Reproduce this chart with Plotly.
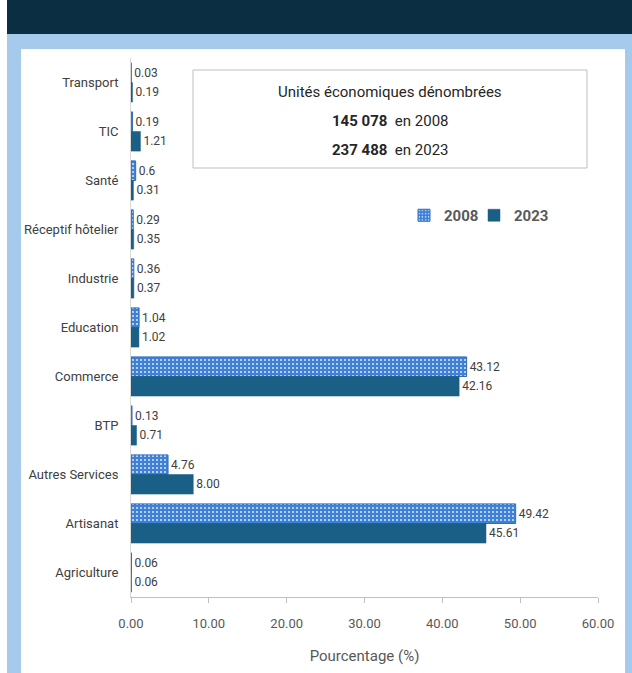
import plotly.graph_objects as go

categories = ["Transport", "TIC", "Santé", "Réceptif hôtelier", "Industrie", "Education",
              "Commerce", "BTP", "Autres Services", "Artisanat", "Agriculture"]
values_2008 = [0.03, 0.19, 0.6, 0.29, 0.36, 1.04, 43.12, 0.13, 4.76, 49.42, 0.06]
values_2023 = [0.19, 1.21, 0.31, 0.35, 0.37, 1.02, 42.16, 0.71, 8.00, 45.61, 0.06]
labels_2008 = ["0.03", "0.19", "0.6", "0.29", "0.36", "1.04", "43.12", "0.13", "4.76", "49.42", "0.06"]
labels_2023 = ["0.19", "1.21", "0.31", "0.35", "0.37", "1.02", "42.16", "0.71", "8.00", "45.61", "0.06"]
x_ticks = [0, 10, 20, 30, 40, 50, 60]
x_tick_labels = ["0.00", "10.00", "20.00", "30.00", "40.00", "50.00", "60.00"]

FONT = "Roboto, Liberation Sans, sans-serif"
W, H = 632, 673
L, R, T, B = 131, 34, 58, 76
PW, PH = W - L - R, H - T - B

def px_x(px):
    return (px - L) / PW

def px_y(py):
    return (H - B - py) / PH

fig = go.Figure()
fig.add_trace(go.Bar(
    y=categories, x=values_2008, name="2008", orientation="h", legend="legend", showlegend=True,
    text=labels_2008, textposition="outside", cliponaxis=False,
    textfont=dict(family=FONT, size=12, color="#404040"),
    marker=dict(color="#3d80d6", line=dict(color="#2f6fbf", width=1),
                pattern=dict(shape=".", fillmode="replace", bgcolor="#3d80d6",
                             fgcolor="#dfeafa", size=4, solidity=0.2)),
))
fig.add_trace(go.Bar(
    y=categories, x=values_2023, name="2023", orientation="h", legend="legend2", showlegend=True,
    text=labels_2023, textposition="outside", cliponaxis=False,
    textfont=dict(family=FONT, size=12, color="#404040"),
    marker=dict(color="#1a5f85", line=dict(color="#1a5f85", width=0.5)),
))

shapes = [
    dict(type="rect", xref="paper", yref="paper", layer="below",
         x0=px_x(21), x1=px_x(625), y0=px_y(H + 20), y1=px_y(49),
         fillcolor="white", line=dict(width=0)),
    dict(type="rect", xref="paper", yref="paper", layer="below",
         x0=px_x(7), x1=px_x(W + 20), y0=px_y(34), y1=px_y(-20),
         fillcolor="#0b2e42", line=dict(width=0)),
    dict(type="rect", xref="paper", yref="paper", layer="below",
         x0=px_x(-20), x1=px_x(7), y0=px_y(H + 20), y1=px_y(-20),
         fillcolor="white", line=dict(width=0)),
    dict(type="rect", xref="paper", yref="paper", layer="above",
         x0=px_x(193), x1=px_x(587), y0=px_y(168), y1=px_y(70),
         fillcolor="rgba(0,0,0,0)", line=dict(color="#bfbfbf", width=1)),
]

cx = px_x(390)
box_font = dict(family=FONT, size=15, color="#262626")
annotations = [
    dict(xref="paper", yref="paper", x=cx, y=px_y(92), xanchor="center", yanchor="middle",
         text="Unités économiques dénombrées", showarrow=False, font=box_font),
    dict(xref="paper", yref="paper", x=cx, y=px_y(121), xanchor="center", yanchor="middle",
         text="<b>145 078</b>  en 2008", showarrow=False, font=box_font),
    dict(xref="paper", yref="paper", x=cx, y=px_y(150), xanchor="center", yanchor="middle",
         text="<b>237 488</b>  en 2023", showarrow=False, font=box_font),
]

legend_font = dict(family=FONT, size=15, color="#595959", weight="bold")
legend_common = dict(orientation="h", xanchor="left", yanchor="top", bgcolor="rgba(0,0,0,0)",
                     font=legend_font, itemwidth=30, visible=True)

fig.update_layout(
    width=W, height=H,
    margin=dict(l=L, r=R, t=T, b=B),
    paper_bgcolor="#a6caec", plot_bgcolor="white",
    barmode="group", bargap=0.2, bargroupgap=0.0,
    font=dict(family=FONT, color="#595959"),
    shapes=shapes, annotations=annotations,
    showlegend=True,
    legend=dict(x=px_x(404), y=px_y(199), **legend_common),
    legend2=dict(x=px_x(474), y=px_y(199), **legend_common),
    xaxis=dict(range=[0, 60], tickvals=x_ticks, ticktext=x_tick_labels,
               showgrid=False, zeroline=False, showline=True, linecolor="#bfbfbf",
               ticks="outside", ticklen=5, tickcolor="#bfbfbf", ticklabelstandoff=9,
               tickfont=dict(family=FONT, size=13, color="#595959"),
               title=dict(text="Pourcentage (%)", font=dict(family=FONT, size=15, color="#595959"), standoff=20)),
    yaxis=dict(autorange="reversed", showgrid=False, zeroline=False, showline=True,
               linecolor="#d9d9d9", ticks="", ticklabelstandoff=9,
               tickfont=dict(family=FONT, size=13, color="#404040")),
)

fig.write_html("out.html", config={"displayModeBar": False},
               post_script="document.body.style.margin='0';")
